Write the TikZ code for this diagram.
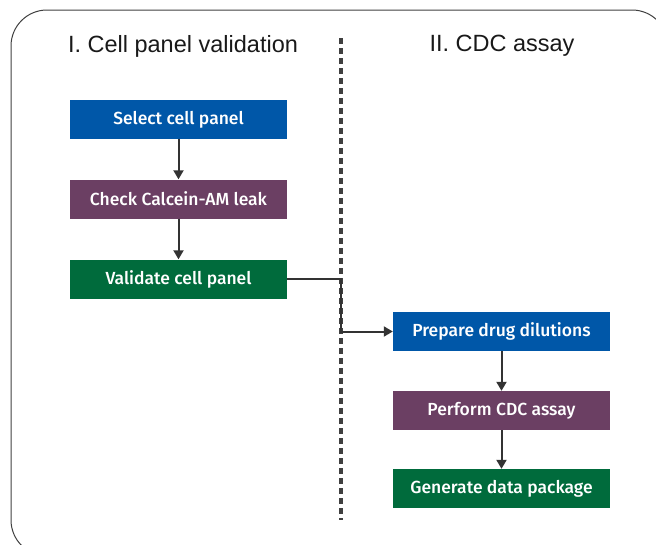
\documentclass[tikz,border=0pt]{standalone}
\usepackage{fontspec}
\setmainfont{Liberation Sans}
\newfontfamily\boxfont{Fira Sans Medium}
\usetikzlibrary{arrows.meta}
\definecolor{cblue}{HTML}{0057A8}
\definecolor{cpurple}{HTML}{6B3F63}
\definecolor{cgreen}{HTML}{006B3C}
\definecolor{cline}{HTML}{333333}
\begin{document}
\begin{tikzpicture}[x=1pt,y=-1pt,
  stepbox/.style={minimum width=217pt,minimum height=39pt,inner sep=0pt,text=white,font=\boxfont\fontsize{17.5}{20}\selectfont},
  conn/.style={draw=cline,line width=2pt,-{Triangle[length=9pt,width=10pt]}},
  title/.style={font=\fontsize{23.5}{28}\selectfont,text=black!90}]
\useasboundingbox (0,0) rectangle (656,544);
\draw[line width=1pt,draw=black!75,rounded corners=36pt] (11,10) rectangle (668,556);
\node[title] (t1) at (183,46) {I. Cell panel validation};
\node[title] (t2) at (502,46) {II. CDC assay};
\coordinate (dtop) at (341,38);
\coordinate (dbot) at (341,520);
\draw[line width=3.2pt,draw=black!75,dash pattern=on 6pt off 4pt] (dtop) -- (dbot);
\node[stepbox,fill=cblue] (a) at (178.5,119.5) {Select cell panel};
\node[stepbox,fill=cpurple] (b) at (178.5,199) {Check Calcein-AM leak};
\node[stepbox,fill=cgreen] (c) at (178.5,279) {Validate cell panel};
\node[stepbox,fill=cblue] (d) at (501.5,331.5) {Prepare drug dilutions};
\node[stepbox,fill=cpurple] (e) at (501.5,410.5) {Perform CDC assay};
\node[stepbox,fill=cgreen] (f) at (501.5,488.5) {Generate data package};
\draw[conn] (a) -- (b);
\draw[conn] (b) -- (c);
\coordinate (k1) at (341,279);
\coordinate (k2) at (341,331.5);
\draw[conn] (c.east) -- (k1) -- (k2) -- (d.west);
\draw[conn] (d) -- (e);
\draw[conn] (e) -- (f);
\end{tikzpicture}
\end{document}
